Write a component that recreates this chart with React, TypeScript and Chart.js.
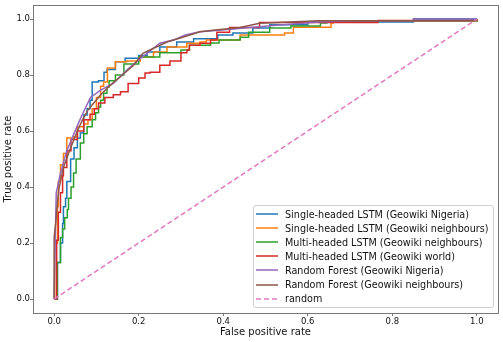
import React, { useEffect, useRef } from 'react';
import { Chart, registerables } from 'chart.js';

Chart.register(...registerables);

// Series labels and colours (matplotlib tab10)
const seriesLabels = [
  'Single-headed LSTM (Geowiki Nigeria)',
  'Single-headed LSTM (Geowiki neighbours)',
  'Multi-headed LSTM (Geowiki neighbours)',
  'Multi-headed LSTM (Geowiki world)',
  'Random Forest (Geowiki Nigeria)',
  'Random Forest (Geowiki neighbours)',
  'random',
];
const seriesColors = ['#1f77b4', '#ff7f0e', '#2ca02c', '#d62728', '#9467bd', '#8c564b', '#e377c2'];

// ROC points: false positive rate / true positive rate
const lstmNigeriaFpr = [0, 0.008, 0.015, 0.02, 0.022, 0.027, 0.03, 0.039, 0.047, 0.055, 0.062, 0.07, 0.078, 0.085, 0.09, 0.105, 0.118, 0.125, 0.145, 0.168, 0.2, 0.22, 0.25, 0.29, 0.33, 0.387, 0.423, 0.47, 0.51, 0.6, 0.85, 1.0];
const lstmNigeriaTpr = [0, 0.13, 0.2, 0.27, 0.33, 0.36, 0.42, 0.5, 0.54, 0.575, 0.593, 0.657, 0.68, 0.71, 0.775, 0.78, 0.81, 0.82, 0.848, 0.86, 0.87, 0.882, 0.9, 0.918, 0.93, 0.943, 0.95, 0.968, 0.98, 0.99, 1.0, 1.0];

const lstmNeighFpr = [0, 0.005, 0.008, 0.01, 0.015, 0.022, 0.03, 0.045, 0.055, 0.07, 0.08, 0.09, 0.1, 0.11, 0.117, 0.126, 0.145, 0.172, 0.204, 0.235, 0.267, 0.314, 0.345, 0.36, 0.44, 0.545, 0.566, 0.655, 0.66, 1.0];
const lstmNeighTpr = [0, 0.2, 0.33, 0.42, 0.48, 0.52, 0.575, 0.58, 0.615, 0.625, 0.64, 0.68, 0.72, 0.76, 0.775, 0.825, 0.848, 0.85, 0.865, 0.882, 0.9, 0.914, 0.918, 0.925, 0.943, 0.95, 0.971, 0.986, 0.994, 1.0];

const multiNeighFpr = [0, 0.0075, 0.015, 0.02, 0.025, 0.031, 0.034, 0.04, 0.046, 0.052, 0.062, 0.07, 0.078, 0.09, 0.098, 0.105, 0.11, 0.117, 0.125, 0.13, 0.145, 0.165, 0.2, 0.25, 0.3, 0.32, 0.37, 0.39, 0.44, 0.46, 0.51, 0.56, 0.63, 0.645, 1.0];
const multiNeighTpr = [0, 0.13, 0.22, 0.25, 0.29, 0.32, 0.36, 0.4, 0.45, 0.5, 0.557, 0.59, 0.615, 0.64, 0.665, 0.686, 0.71, 0.735, 0.757, 0.78, 0.8, 0.84, 0.865, 0.88, 0.89, 0.907, 0.915, 0.925, 0.935, 0.953, 0.968, 0.975, 0.986, 0.994, 1.0];

const multiWorldFpr = [0, 0.006, 0.01, 0.015, 0.02, 0.022, 0.03, 0.04, 0.055, 0.07, 0.085, 0.095, 0.105, 0.12, 0.14, 0.157, 0.175, 0.2, 0.215, 0.227, 0.25, 0.274, 0.3, 0.314, 0.32, 0.345, 0.37, 0.385, 0.415, 0.486, 0.766, 1.0];
const multiWorldTpr = [0, 0.21, 0.31, 0.38, 0.44, 0.47, 0.53, 0.57, 0.6, 0.64, 0.66, 0.68, 0.7, 0.72, 0.73, 0.74, 0.77, 0.79, 0.807, 0.81, 0.835, 0.85, 0.88, 0.89, 0.907, 0.914, 0.925, 0.953, 0.97, 0.988, 0.995, 1.0];

const rfNigeriaFpr = [0, 0.004, 0.005, 0.008, 0.015, 0.03, 0.044, 0.058, 0.07, 0.086, 0.11, 0.14, 0.172, 0.204, 0.22, 0.25, 0.282, 0.31, 0.345, 0.39, 0.525, 0.627, 0.7, 0.85, 0.85, 1.0];
const rfNigeriaTpr = [0, 0.31, 0.38, 0.4, 0.45, 0.53, 0.58, 0.63, 0.67, 0.72, 0.746, 0.77, 0.818, 0.86, 0.878, 0.914, 0.925, 0.943, 0.955, 0.96, 0.978, 0.99, 0.994, 0.994, 1.0, 1.0];

const rfNeighFpr = [0, 0, 0.004, 0.008, 0.012, 0.022, 0.039, 0.055, 0.067, 0.08, 0.086, 0.11, 0.133, 0.156, 0.188, 0.21, 0.235, 0.267, 0.306, 0.345, 0.376, 0.44, 0.486, 0.627, 1.0, 1.0];
const rfNeighTpr = [0, 0.22, 0.275, 0.35, 0.4, 0.47, 0.54, 0.6, 0.64, 0.675, 0.686, 0.73, 0.764, 0.793, 0.835, 0.878, 0.896, 0.918, 0.936, 0.955, 0.96, 0.97, 0.985, 0.994, 0.994, 1.0];

const randomFpr = [0, 1];
const randomTpr = [0, 1];

const tickValues = [0, 0.2, 0.4, 0.6, 0.8, 1.0];

const FONT = "'DejaVu Sans', sans-serif";

export default function App() {
  const ref = useRef<HTMLCanvasElement>(null);

  useEffect(() => {
    const series = [
      { fpr: lstmNigeriaFpr, tpr: lstmNigeriaTpr, stepped: 'before' as const },
      { fpr: lstmNeighFpr, tpr: lstmNeighTpr, stepped: 'before' as const },
      { fpr: multiNeighFpr, tpr: multiNeighTpr, stepped: 'before' as const },
      { fpr: multiWorldFpr, tpr: multiWorldTpr, stepped: 'before' as const },
      { fpr: rfNigeriaFpr, tpr: rfNigeriaTpr, stepped: false as const },
      { fpr: rfNeighFpr, tpr: rfNeighTpr, stepped: false as const },
      { fpr: randomFpr, tpr: randomTpr, stepped: false as const },
    ];
    const datasets = series.map((s, i) => ({
      label: seriesLabels[i],
      data: s.fpr.map((x, j) => ({ x, y: s.tpr[j] })),
      borderColor: seriesColors[i],
      backgroundColor: seriesColors[i],
      borderWidth: 1.5,
      pointRadius: 0,
      pointHoverRadius: 0,
      fill: false,
      tension: 0,
      stepped: s.stepped,
      borderDash: i === 6 ? [5, 3] : [],
      order: series.length - i,
    }));

    const spines = {
      id: 'spines',
      afterDatasetsDraw(chart: any) {
        const { ctx, chartArea } = chart;
        ctx.save();
        ctx.strokeStyle = '#6a6a6a';
        ctx.lineWidth = 0.9;
        ctx.strokeRect(
          Math.round(chartArea.left) + 0.5,
          Math.round(chartArea.top) + 0.5,
          Math.round(chartArea.right - chartArea.left),
          Math.round(chartArea.bottom - chartArea.top)
        );
        ctx.restore();
      },
    };

    const tickFont = { family: FONT, size: 8.5 };
    const titleFont = { family: FONT, size: 10 };

    const chart = new Chart(ref.current as HTMLCanvasElement, {
      type: 'line',
      data: { datasets: datasets as any },
      options: {
        animation: false,
        responsive: false,
        events: [],
        layout: { padding: { left: 0, right: 5, top: 5, bottom: 0 } },
        plugins: { legend: { display: false }, tooltip: { enabled: false } },
        scales: {
          x: {
            type: 'linear',
            min: -0.05,
            max: 1.05,
            afterBuildTicks: (axis: any) => {
              axis.ticks = tickValues.map((v) => ({ value: v }));
            },
            afterFit: (axis: any) => {
              axis.height = 29;
            },
            ticks: {
              autoSkip: false,
              maxRotation: 0,
              padding: 1,
              color: '#111',
              font: tickFont,
              callback: (v: any) => Number(v).toFixed(1),
            },
            grid: { display: true, drawOnChartArea: false, drawTicks: true, tickLength: 3, tickColor: '#555', tickWidth: 0.8 },
            border: { display: false },
            title: { display: true, text: 'False positive rate', color: '#111', font: titleFont, padding: { top: 0, bottom: 4 } },
          },
          y: {
            type: 'linear',
            min: -0.05,
            max: 1.05,
            afterBuildTicks: (axis: any) => {
              axis.ticks = tickValues.map((v) => ({ value: v }));
            },
            afterFit: (axis: any) => {
              axis.width = 33;
            },
            ticks: {
              autoSkip: false,
              padding: 0,
              color: '#111',
              font: tickFont,
              callback: (v: any) => Number(v).toFixed(1),
            },
            grid: { display: true, drawOnChartArea: false, drawTicks: true, tickLength: 3, tickColor: '#555', tickWidth: 0.8 },
            border: { display: false },
            title: { display: true, text: 'True positive rate', color: '#111', font: titleFont, padding: { top: 2, bottom: 0 } },
          },
        },
      } as any,
      plugins: [spines],
    });
    return () => chart.destroy();
  }, []);

  return (
    <div style={{ position: 'absolute', left: 0, top: 0, width: 503, height: 342, background: '#fff', overflow: 'hidden' }}>
      <canvas ref={ref} width={503} height={342} style={{ display: 'block', width: 503, height: 342 }} />
      <div
        style={{
          position: 'absolute',
          left: 253,
          top: 205,
          width: 241,
          height: 103,
          boxSizing: 'border-box',
          border: '1px solid #d0d0d0',
          borderRadius: 3,
          background: 'rgba(255,255,255,0.8)',
          padding: '1px 0 0 1px',
          fontFamily: FONT,
          fontSize: 9.65,
          color: '#111',
        }}
      >
        {seriesLabels.map((label, i) => (
          <div key={label} style={{ display: 'flex', alignItems: 'center', height: 14.1, whiteSpace: 'nowrap' }}>
            <svg width={22} height={6} style={{ marginLeft: 1, marginRight: 7, flex: 'none' }}>
              <line
                x1={0}
                y1={3}
                x2={22}
                y2={3}
                stroke={seriesColors[i]}
                strokeWidth={1.5}
                strokeDasharray={i === 6 ? '5,3' : undefined}
              />
            </svg>
            <span>{label}</span>
          </div>
        ))}
      </div>
    </div>
  );
}
